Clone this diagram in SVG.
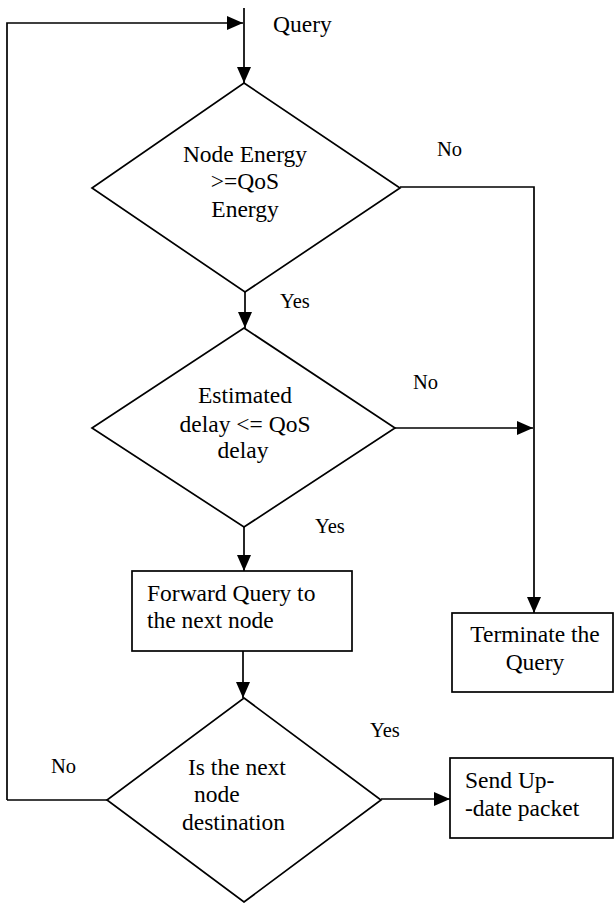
<svg xmlns="http://www.w3.org/2000/svg" width="614" height="903" viewBox="0 0 614 903">
<style>
.shape{fill:#fff;stroke:#000;stroke-width:1.7}
.conn{fill:none;stroke:#000;stroke-width:1.7}
.t{font-size:23.5px}
.c{text-anchor:middle}
.lbl{font-size:20.5px}
</style>
<defs>
<marker id="ah" markerUnits="userSpaceOnUse" markerWidth="16" markerHeight="14" refX="16" refY="7" orient="auto">
<path d="M0,0 L16,7 L0,14 Z" fill="#000"/>
</marker>
</defs>
<rect width="614" height="903" fill="#fff"/>
<g id="connectors">
<path class="conn" d="M7,800 L7,23 L243,23" marker-end="url(#ah)"/>
<path class="conn" d="M244,8 L244,83" marker-end="url(#ah)"/>
<path class="conn" d="M245,292 L245,328" marker-end="url(#ah)"/>
<path class="conn" d="M400,187 L534,187 L534,613" marker-end="url(#ah)"/>
<path class="conn" d="M395,428 L533,428" marker-end="url(#ah)"/>
<path class="conn" d="M244,527 L244,571" marker-end="url(#ah)"/>
<path class="conn" d="M243,651 L243,698" marker-end="url(#ah)"/>
<path class="conn" d="M381,799 L450,799" marker-end="url(#ah)"/>
<path class="conn" d="M107,800 L7,800"/>
</g>
<g font-family="Liberation Serif, Times New Roman, serif" fill="#000">
<g id="start">
<text class="t" x="273" y="32">Query</text>
</g>
<g id="d1">
<polygon class="shape" points="244,83 400,188 245,292 92,188"/>
<text class="t c" x="245" y="162">Node Energy</text>
<text class="t c" x="245" y="189">&gt;=QoS</text>
<text class="t c" x="245" y="217">Energy</text>
</g>
<g id="d2">
<polygon class="shape" points="244,328 395,428 244,527 92,428"/>
<text class="t c" x="245" y="403">Estimated</text>
<text class="t c" x="245" y="432">delay &lt;= QoS</text>
<text class="t c" x="243" y="458">delay</text>
</g>
<g id="forward">
<rect class="shape" x="132" y="571" width="220" height="80"/>
<text class="t" x="147" y="601">Forward Query to</text>
<text class="t" x="147" y="628">the next node</text>
</g>
<g id="terminate">
<rect class="shape" x="452" y="613" width="161" height="79"/>
<text class="t c" x="535" y="642">Terminate the</text>
<text class="t c" x="535" y="670">Query</text>
</g>
<g id="d3">
<polygon class="shape" points="244,698 381,800 244,902 107,800"/>
<text class="t" x="188" y="775">Is the next</text>
<text class="t" x="194" y="802">node</text>
<text class="t" x="182" y="830">destination</text>
</g>
<g id="send">
<rect class="shape" x="450" y="758" width="163" height="80"/>
<text class="t" x="465" y="788">Send Up-</text>
<text class="t" x="465" y="816">-date packet</text>
</g>
<g id="labels">
<text class="lbl" x="437" y="156">No</text>
<text class="lbl" x="280" y="308">Yes</text>
<text class="lbl" x="413" y="389">No</text>
<text class="lbl" x="315" y="533">Yes</text>
<text class="lbl" x="370" y="737">Yes</text>
<text class="lbl" x="51" y="773">No</text>
</g>
</g>
</svg>
